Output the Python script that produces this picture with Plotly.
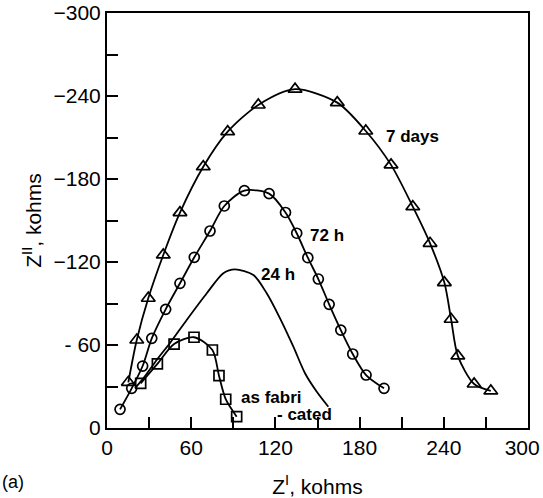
import plotly.graph_objects as go

# 7 days (triangles)
days7_x = [15.2, 21.2, 29.4, 40.1, 52.0, 68.6, 86.0, 107.8, 134.0, 164.1, 184.4, 202.4,
           217.9, 230.2, 240.4, 245.2, 250.0, 261.6, 273.5]
days7_y = [-33.0, -63.6, -93.8, -125.1, -155.7, -188.9, -214.2, -233.5, -244.9, -235.2,
           -214.7, -190.2, -160.0, -133.5, -105.1, -78.6, -52.1, -31.8, -26.8]

# 72 h (circles)
h72_x = [9.3, 17.6, 25.4, 31.9, 41.8, 52.0, 62.2, 73.4, 83.6, 97.9, 115.5, 127.2, 135.2,
         143.1, 150.6, 158.3, 166.6, 175.1, 184.6, 197.4]
h72_y = [-13.5, -28.7, -44.8, -64.8, -85.8, -104.6, -123.4, -142.4, -160.5, -171.6,
         -169.4, -155.8, -140.8, -123.1, -107.7, -89.4, -70.8, -53.5, -38.3, -28.7]

# 24 h (line only)
h24_x = [20.0, 25.9, 35.4, 44.9, 56.8, 71.1, 82.9, 91.2, 104.3, 113.8, 123.3, 132.8,
         141.1, 149.5, 157.7]
h24_y = [-28.9, -35.9, -49.2, -61.5, -78.1, -97.4, -111.9, -114.7, -110.6, -97.4, -79.3,
         -58.8, -39.6, -26.2, -15.4]

# as fabricated (squares)
fab_x = [24.0, 35.9, 47.8, 62.0, 75.1, 79.8, 84.6, 92.4]
fab_y = [-32.3, -46.3, -60.7, -65.6, -56.4, -37.8, -20.8, -8.2]

x_ticks = [0, 30, 60, 90, 120, 150, 180, 210, 240, 270, 300]
x_ticktext = ["0", " ", "60", " ", "120", " ", "180", " ", "240", " ", "300\u00a0\u00a0"]
y_ticks = [0, -30, -60, -90, -120, -150, -180, -210, -240, -270, -300]
y_ticktext = ["0", " ", "- 60", " ", "\u2212120", " ", "\u2212180", " ", "\u2212240", " ", "\u2212300"]

FONT = "Liberation Sans"
line = dict(color="black", width=1.8, shape="spline", smoothing=0.8)

fig = go.Figure()
fig.add_trace(go.Scatter(x=days7_x, y=days7_y, mode="lines+markers", line=line,
                         marker=dict(symbol="triangle-up-open", size=12, color="black",
                                     line=dict(width=1.7, color="black")),
                         showlegend=False))
fig.add_trace(go.Scatter(x=h72_x, y=h72_y, mode="lines+markers", line=line,
                         marker=dict(symbol="circle-open", size=10, color="black",
                                     line=dict(width=1.7, color="black")),
                         showlegend=False))
fig.add_trace(go.Scatter(x=h24_x, y=h24_y, mode="lines", line=line, showlegend=False))
fig.add_trace(go.Scatter(x=fab_x, y=fab_y, mode="lines+markers", line=line,
                         marker=dict(symbol="square-open", size=10, color="black",
                                     line=dict(width=1.7, color="black")),
                         showlegend=False))

lab_font = dict(family=FONT, size=17, color="black")
for txt, x, y in [("<b>7 days</b>", 218, -211), ("<b>72 h</b>", 157, -139),
                  ("<b>24 h</b>", 122, -111), ("<b>as fabri</b>", 117, -22),
                  ("<b>- cated</b>", 141, -10)]:
    fig.add_annotation(x=x, y=y, text=txt, showarrow=False, font=lab_font,
                       xanchor="center", yanchor="middle")

fig.add_annotation(xref="paper", yref="paper", x=-0.255, y=-0.13, text="(a)",
                   showarrow=False, font=dict(family=FONT, size=18, color="black"),
                   xanchor="left", yanchor="middle")

axis_common = dict(showgrid=False, zeroline=False, showline=True, linecolor="black",
                   linewidth=2, mirror=True, ticks="inside", ticklen=11, tickwidth=1.8,
                   tickcolor="black", automargin=False, ticklabeloverflow="allow",
                   tickfont=dict(family=FONT, size=21, color="black"))

fig.update_xaxes(range=[0, 300], tickmode="array", tickvals=x_ticks, ticktext=x_ticktext,
                 title=dict(text="Z<sup>I</sup>, kohms", font=dict(family=FONT, size=21, color="black"),
                            standoff=22),
                 **axis_common)
fig.update_yaxes(range=[0, -300], tickmode="array", tickvals=y_ticks, ticktext=y_ticktext,
                 title=dict(text="Z<sup>II</sup>, kohms", font=dict(family=FONT, size=21, color="black"),
                            standoff=6),
                 **axis_common)

fig.update_layout(width=543, height=498, margin=dict(l=107, r=15, t=13, b=70),
                  plot_bgcolor="white", paper_bgcolor="white")

fig.write_html("out.html")
